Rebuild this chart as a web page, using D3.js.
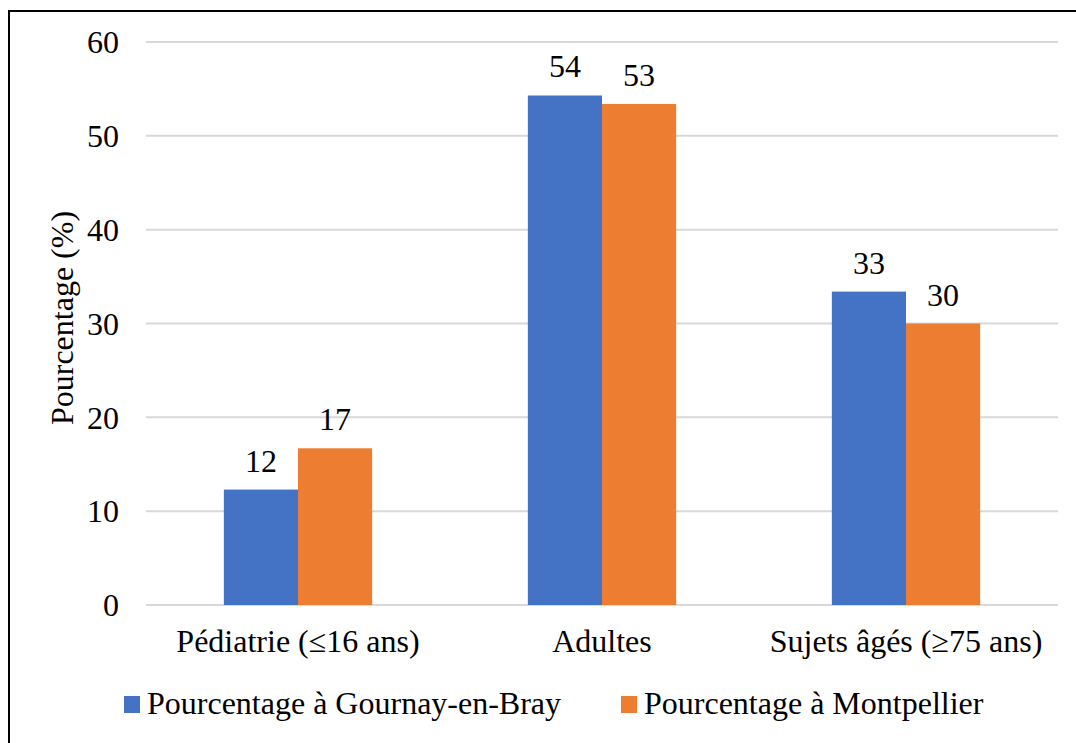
<!DOCTYPE html>
<meta charset="UTF-8">
<head>
<title>Pourcentage par tranche d'âge</title>
<style>
body { margin: 0; background: #fff; }
svg, svg text { font-family: "Times New Roman", "Liberation Serif", "DejaVu Serif", serif; }
.grid line { stroke: #d9d9d9; stroke-width: 2px; }
</style>
</head>
<body>
<script src="https://d3js.org/d3.v7.min.js"></script>
<script>

var categories = ["Pédiatrie (≤16 ans)", "Adultes", "Sujets âgés (≥75 ans)"];
var seriesNames = ["Pourcentage à Gournay-en-Bray", "Pourcentage à Montpellier"];
var gournay = [12.3, 54.3, 33.4];
var montpellier = [16.7, 53.4, 30.0];
var labels = [[12, 54, 33], [17, 53, 30]];
var yTicks = [0, 10, 20, 30, 40, 50, 60];
var colors = ["#4472c4", "#ed7d31"];

var W = 1076, H = 743;
var plotLeft = 146, plotRight = 1058, plotTop = 42, plotBottom = 605;

var svg = d3.select("body").append("svg")
    .attr("width", W)
    .attr("height", H)
    .attr("font-family", "'Liberation Serif', 'Times New Roman', serif")
    .attr("font-size", 32)
    .attr("fill", "#000");

// outer frame (right and bottom fall outside the picture)
svg.append("rect")
    .attr("x", 9).attr("y", 11)
    .attr("width", W).attr("height", H)
    .attr("fill", "none")
    .attr("stroke", "#000")
    .attr("stroke-width", 2);

var y = d3.scaleLinear().domain([0, 60]).range([plotBottom, plotTop]);
var x = d3.scaleBand().domain(categories).range([plotLeft, plotRight]);
var inner = d3.scaleBand().domain([0, 1]).range([0, x.bandwidth()]).paddingInner(0).paddingOuter(1.05);

// gridlines
svg.append("g").attr("class", "grid")
  .selectAll("line").data(yTicks).enter().append("line")
    .attr("x1", plotLeft).attr("x2", plotRight)
    .attr("y1", function(d) { return y(d); })
    .attr("y2", function(d) { return y(d); });

// y tick labels
svg.append("g")
  .selectAll("text").data(yTicks).enter().append("text")
    .attr("x", 119)
    .attr("y", function(d) { return y(d); })
    .attr("dy", "0.35em")
    .attr("text-anchor", "end")
    .text(function(d) { return d; });

// bars
var series = [gournay, montpellier];
series.forEach(function(vals, s) {
  svg.append("g")
    .selectAll("rect").data(vals).enter().append("rect")
      .attr("x", function(d, i) { return x(categories[i]) + inner(s); })
      .attr("y", function(d) { return y(d); })
      .attr("width", inner.bandwidth())
      .attr("height", function(d) { return y(0) - y(d); })
      .attr("fill", colors[s]);

  svg.append("g")
    .selectAll("text").data(vals).enter().append("text")
      .attr("x", function(d, i) { return x(categories[i]) + inner(s) + inner.bandwidth() / 2; })
      .attr("y", function(d) { return y(d) - 18; })
      .attr("text-anchor", "middle")
      .text(function(d, i) { return labels[s][i]; });
});

// category labels
svg.append("g")
  .selectAll("text").data(categories).enter().append("text")
    .attr("x", function(d) { return x(d) + x.bandwidth() / 2; })
    .attr("y", 652)
    .attr("text-anchor", "middle")
    .text(function(d) { return d; });

// y axis title
svg.append("text")
  .attr("transform", "translate(73,318) rotate(-90)")
  .attr("text-anchor", "middle")
  .text("Pourcentage (%)");

// legend
var legendX = [124, 621];
var legend = svg.append("g")
  .selectAll("g").data(seriesNames).enter().append("g")
    .attr("transform", function(d, i) { return "translate(" + legendX[i] + ",696)"; });

legend.append("rect")
    .attr("width", 16).attr("height", 17)
    .attr("fill", function(d, i) { return colors[i]; });

legend.append("text")
    .attr("x", 23).attr("y", 18)
    .text(function(d) { return d; });

</script>
</body>
</html>
